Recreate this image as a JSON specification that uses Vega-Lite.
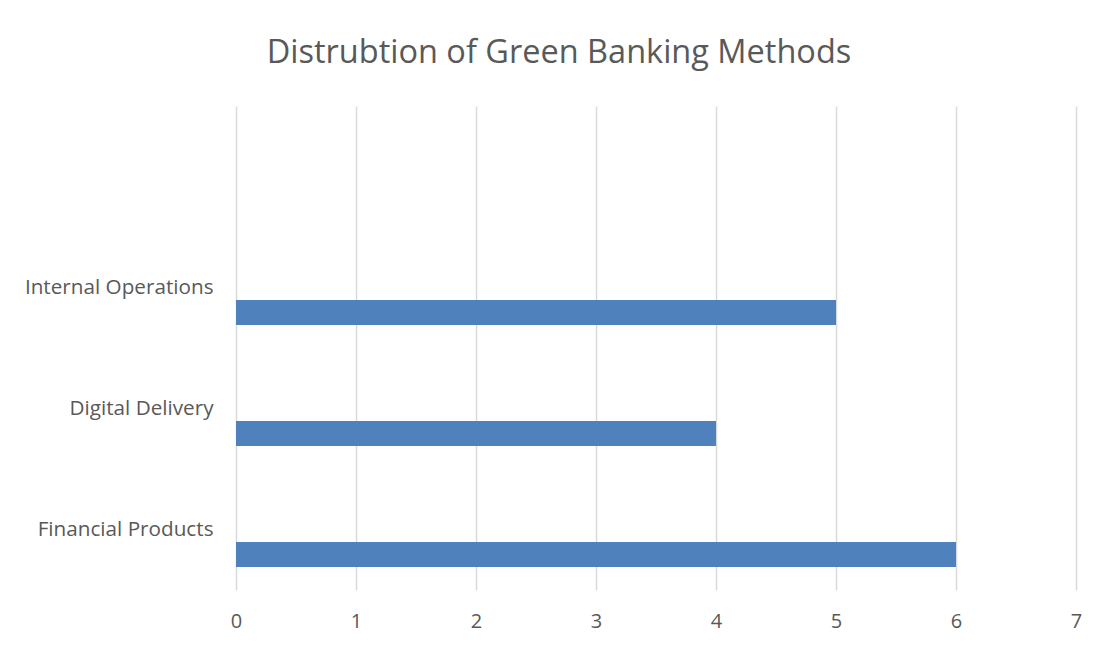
{
  "$schema": "https://vega.github.io/schema/vega-lite/v6.json",
  "autosize": "none",
  "width": 840,
  "height": 484,
  "padding": {"left": 236, "top": 106, "right": 29, "bottom": 58},
  "background": "white",
  "title": {
    "text": "Distrubtion of Green Banking Methods",
    "font": "Open Sans",
    "fontSize": 32.5,
    "fontWeight": "normal",
    "color": "#595959",
    "anchor": "middle",
    "dx": -97,
    "offset": 37
  },
  "data": {
    "values": [
      {"method": "Internal Operations", "count": 5},
      {"method": "Digital Delivery", "count": 4},
      {"method": "Financial Products", "count": 6}
    ]
  },
  "mark": {"type": "bar", "color": "#4f81bd", "height": 25, "yOffset": 25},
  "encoding": {
    "y": {
      "field": "method",
      "type": "nominal",
      "sort": null,
      "scale": {
        "domain": ["_blank", "Internal Operations", "Digital Delivery", "Financial Products"],
        "paddingInner": 0,
        "paddingOuter": 0
      },
      "axis": {
        "title": null,
        "domain": false,
        "ticks": false,
        "labelExpr": "datum.value == '_blank' ? '' : datum.value",
        "labelFont": "Open Sans",
        "labelFontSize": 20.7,
        "labelColor": "#595959",
        "labelPadding": 23,
        "labelLimit": 400,
        "labelOverlap": false
      }
    },
    "x": {
      "field": "count",
      "type": "quantitative",
      "scale": {"domain": [0, 7]},
      "axis": {
        "title": null,
        "domain": false,
        "ticks": false,
        "values": [0, 1, 2, 3, 4, 5, 6, 7],
        "grid": true,
        "gridColor": "#d9d9d9",
        "gridWidth": 1.5,
        "labelFont": "Open Sans",
        "labelFontSize": 20,
        "labelColor": "#595959",
        "labelPadding": 21,
        "labelOverlap": false,
        "labelFlush": false
      }
    }
  },
  "config": {"view": {"stroke": null}}
}
